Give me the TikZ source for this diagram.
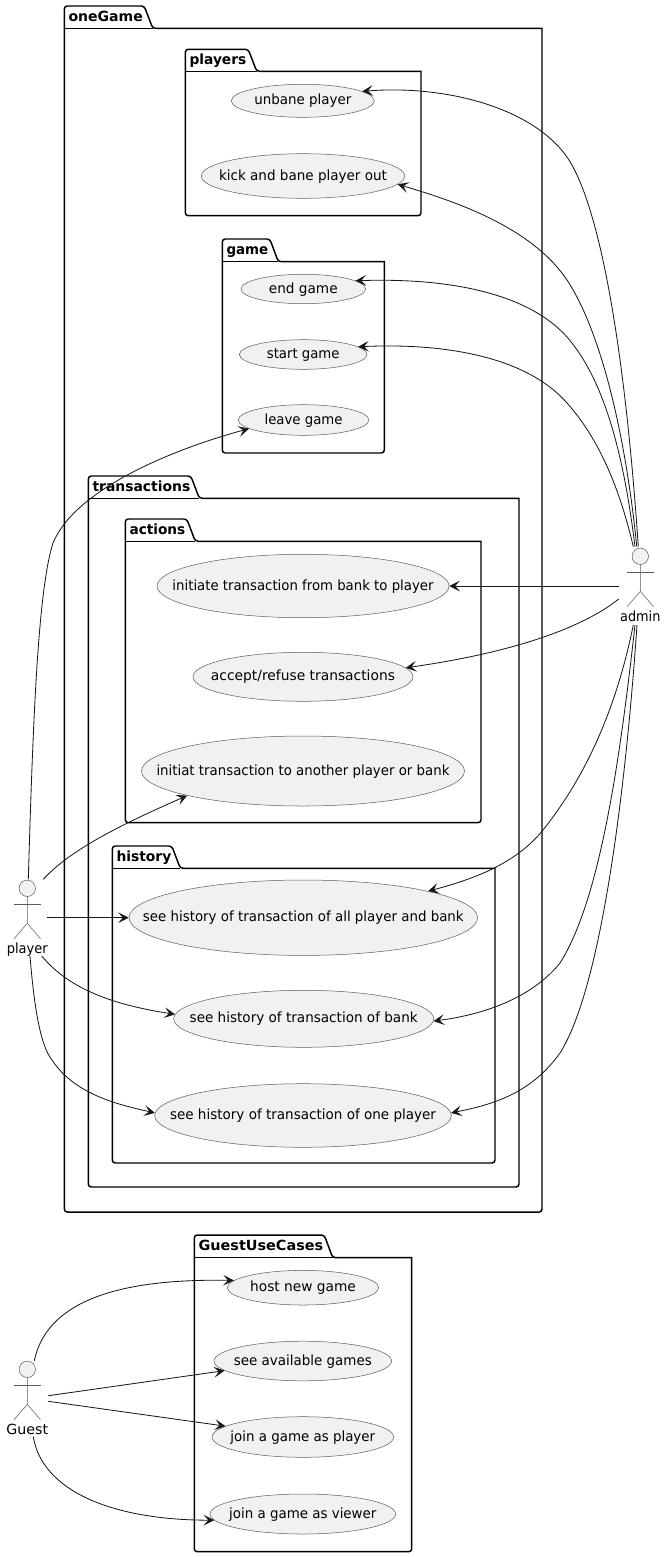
\documentclass[tikz,border=0pt]{standalone}
\usepackage{graphicx}
\usepackage{fontspec}
\setmainfont{DejaVu Sans}
\usetikzlibrary{shapes.geometric,arrows.meta}
\definecolor{ink}{HTML}{181818}
\definecolor{ucfill}{HTML}{F1F1F1}
\tikzset{
  pk/.style={draw=black,line width=1.1pt,rounded corners=2.2pt},
  pktitle/.style={anchor=base west,inner sep=0pt,font=\fontsize{10.5}{12}\selectfont\bfseries},
  uc/.style={ellipse,draw=ink!70,line width=0.38pt,fill=ucfill,inner sep=0pt,font=\fontsize{10.5}{12}\selectfont},
  head/.style={circle,draw=ink!70,line width=0.38pt,fill=ucfill,inner sep=0pt,minimum size=12.3pt},
  limb/.style={draw=ink!70,line width=0.38pt},
  actorlabel/.style={anchor=base,inner sep=0pt,font=\fontsize{10.5}{12}\selectfont},
  link/.style={draw=ink,line width=0.62pt,-{Stealth[length=8pt,width=8pt,inset=3.6pt]}}
}
\newcommand{\fitw}[2]{\resizebox{\dimexpr #1pt*3/4\relax}{\height}{#2}}
\newcommand{\pkgbox}[9]{% name x0 ytop ybody x1 y1 tabright title titlewidth
  \draw[pk] (#2,#6) -- (#2,#3) -- ({#7-8.5},#3) -- (#7,#4) [sharp corners] -- (#5,#4) [rounded corners=2.2pt] -- (#5,#6) -- cycle;
  \draw[pk,sharp corners] (#2,#4) -- (#7,#4);
  \node[pktitle] (#1) at ({#2+4},{#4-7}) {\fitw{#9}{#8}};
}
\newcommand{\usecase}[7]{% name x y rx ry text textwidth
  \node[uc,minimum width={2*#4*0.75pt},minimum height={2*#5*0.75pt}] (#1) at (#2,#3)
    {\smash{\makebox[0pt]{\raisebox{-3pt}{\fitw{#7}{#6}}}}};
}
\newcommand{\stick}[5]{% name x y(head centre) text textwidth
  \node[head] (#1) at (#2,#3) {};
  \draw[limb] (#1.south) -- ({#2},{#3+35}) -- ({#2-13.2},{#3+50.4}) ({#2},{#3+35}) -- ({#2+13.2},{#3+50.4});
  \draw[limb] ({#2-13.2},{#3+15.7}) -- ({#2+13.2},{#3+15.7});
  \node[actorlabel] (#1-label) at (#2,{#3+65}) {\fitw{#5}{#4}};
}
\begin{document}
\begin{tikzpicture}[x=0.75pt,y=-0.75pt]
\useasboundingbox[fill=white] (0,0) rectangle (667,1557);
\pkgbox{p-one}{64.3}{6}{28.3}{542}{1212}{152.7}{oneGame}{74.3}
\pkgbox{p-players}{185.3}{49.3}{71.3}{421}{215.7}{256.7}{players}{56.7}
\pkgbox{p-game}{222.3}{239}{261.7}{384.3}{453}{278.3}{game}{41.7}
\pkgbox{p-trans}{88.3}{476}{498.3}{519}{1187}{199.3}{transactions}{97.7}
\pkgbox{p-actions}{125.3}{519}{541.3}{481}{822.7}{195.3}{actions}{55.7}
\pkgbox{p-history}{112.3}{846}{868.3}{495}{1163}{180.3}{history}{54.7}
\pkgbox{p-guest}{194.3}{1235}{1257.7}{411.7}{1551.7}{332.7}{GuestUseCases}{124.7}

\usecase{unbane}{302.8}{100.8}{71.5}{16.5}{unbane player}{97}
\usecase{kick}{303}{176}{101.7}{22.3}{kick and bane player out}{168}
\usecase{endg}{303.3}{289}{62.3}{14.7}{end game}{68.7}
\usecase{startg}{303.2}{354.5}{63.8}{14.8}{start game}{72.7}
\usecase{leave}{303.6}{420}{65.3}{15.3}{leave game}{78}
\usecase{fbank}{303}{586}{146}{31.7}{initiate transaction from bank to player}{261}
\usecase{accept}{303}{676.8}{110}{24.5}{accept/refuse transactions}{184}
\usecase{initiat}{303}{771}{161.5}{35}{initiat transaction to another player or bank}{293}
\usecase{hall}{303.3}{917.7}{174.3}{37.7}{see history of transaction of all player and bank}{320.7}
\usecase{hbank}{303.7}{1018.8}{130}{28.5}{see history of transaction of bank}{228}
\usecase{hone}{303}{1115.5}{148.3}{31.8}{see history of transaction of one player}{266}
\usecase{host}{303}{1287.7}{75.7}{17.3}{host new game}{105.7}
\usecase{avail}{302.8}{1361}{88.8}{19.8}{see available games}{138}
\usecase{joinp}{302.8}{1437}{90.8}{20.3}{join a game as player}{144.7}
\usecase{joinv}{302.8}{1514}{92.8}{20}{join a game as viewer}{147.3}

\stick{player}{27.3}{888.3}{player}{41}
\stick{admin}{640.3}{556.3}{admin}{40.3}
\stick{guest}{27.3}{1369.3}{Guest}{41.7}

\coordinate (aA) at (638.3,546.7);
\coordinate (aB) at (636.8,546.7);
\coordinate (aC) at (635,546.7);
\coordinate (aD) at (633.3,546.7);
\coordinate (aE) at (618.7,586);
\coordinate (aF) at (618.7,599);
\coordinate (aG) at (633.3,625);
\coordinate (aH) at (635,625);
\coordinate (aI) at (637,625);
\coordinate (pA) at (28.3,879.3);
\coordinate (pB) at (43.3,879.3);
\coordinate (pC) at (47.3,917.7);
\coordinate (pD) at (41.7,956);
\coordinate (pE) at (30,956);
\coordinate (gA) at (34.3,1360.7);
\coordinate (gB) at (48.3,1395.7);
\coordinate (gC) at (48.3,1401.3);
\coordinate (gD) at (33.3,1436.7);

\draw[link] (aA) .. controls (625,350) and (600,205) .. (567,157) .. controls (530,105) and (440,85) .. (unbane.9);
\draw[link] (aB) .. controls (625,430) and (600,330) .. (567,280) .. controls (530,225) and (450,200) .. (kick.-5);
\draw[link] (aC) .. controls (622,440) and (600,375) .. (567,337) .. controls (525,290) and (440,278) .. (endg.9.5);
\draw[link] (aD) .. controls (620,490) and (600,440) .. (567,403) .. controls (525,355) and (440,343) .. (startg.8.6);
\draw[link] (aE) -- (fbank.east);
\draw[link] (aF) .. controls (590,622) and (530,650) .. (accept.5.4);
\draw[link] (aG) .. controls (620,690) and (595,765) .. (543,830) .. controls (515,865) and (470,880) .. (hall.12);
\draw[link] (aH) .. controls (620,760) and (600,900) .. (560,963) .. controls (530,1000) and (480,1015) .. (hbank.-1);
\draw[link] (aI) .. controls (625,800) and (600,990) .. (560,1053) .. controls (530,1095) and (490,1105) .. (hone.1.5);
\draw[link] (pA) .. controls (33,720) and (38,590) .. (53,543) .. controls (75,490) and (170,450) .. (leave.189);
\draw[link] (pB) .. controls (70,850) and (120,825) .. (initiat.192);
\draw[link] (pC) -- (hall.west);
\draw[link] (pD) .. controls (70,990) and (115,1005) .. (hbank.178.8);
\draw[link] (pE) .. controls (34,1005) and (40,1045) .. (52,1060) .. controls (75,1095) and (120,1105) .. (hone.179);
\draw[link] (gA) .. controls (45,1310) and (100,1278) .. (host.174);
\draw[link] (gB) -- (avail.187.8);
\draw[link] (gC) -- (joinp.172.3);
\draw[link] (gD) .. controls (42,1490) and (110,1520) .. (joinv.184.5);
\end{tikzpicture}
\end{document}
